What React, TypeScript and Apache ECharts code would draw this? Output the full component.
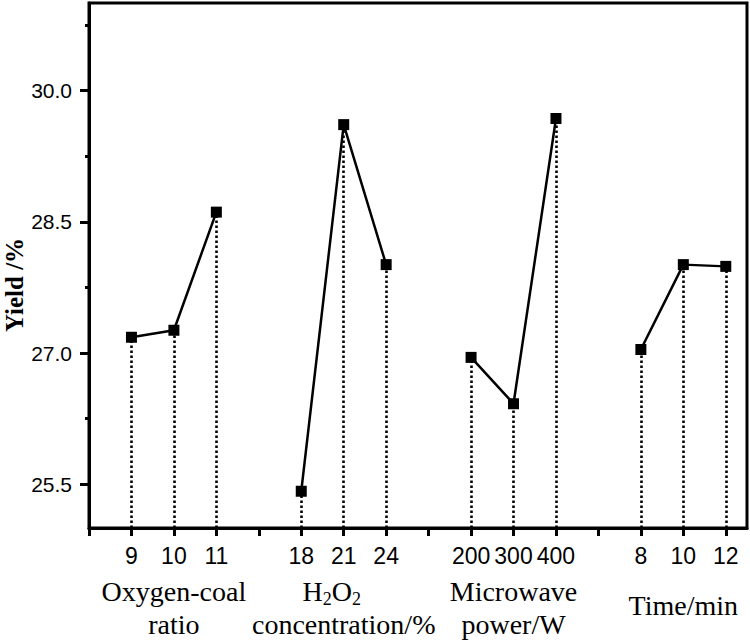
import React, { useEffect, useRef } from "react";
import * as echarts from "echarts";

// Factor groups and their levels (tick labels)
const groupNames = ["Oxygen-coal ratio", "H2O2 concentration/%", "Microwave power/W", "Time/min"];
const oxygenCoalLevels = ["9", "10", "11"];
const h2o2Levels = ["18", "21", "24"];
const microwaveLevels = ["200", "300", "400"];
const timeLevels = ["8", "10", "12"];

// Yield (%) for each level
const oxygenCoalYield = [27.18, 27.26, 28.61];
const h2o2Yield = [25.42, 29.61, 28.01];
const microwaveYield = [26.95, 26.42, 29.68];
const timeYield = [27.04, 28.01, 27.99];

// Y axis tick labels and title
const yTitle = "Yield /%";
const yMajorTicks = [25.5, 27.0, 28.5, 30.0];
const yMinorTicks = [26.25, 27.75, 29.25, 30.75];

const levels = [oxygenCoalLevels, h2o2Levels, microwaveLevels, timeLevels];
const yields = [oxygenCoalYield, h2o2Yield, microwaveYield, timeYield];

const Y_MIN = 25.0;
const Y_MAX = 31.0;
const X_MAX = 15.5;

export default function App() {
  const ref = useRef<HTMLDivElement>(null);

  useEffect(() => {
    if (!ref.current) return;
    const chart = echarts.init(ref.current, null, { renderer: "svg" });

    // position of level i in group g along the x axis
    const pos = (g: number, i: number) => g * 4 + i + 1;

    const levelMap: Record<number, string> = {};
    const levelValues: number[] = [];
    const groupMap: Record<number, string> = {};
    const groupValues: number[] = [];
    levels.forEach((lv, g) => {
      lv.forEach((l, i) => {
        const x = pos(g, i);
        levelValues.push(x);
        levelMap[x] = l;
      });
      const c = pos(g, 1);
      groupValues.push(c);
      const nm = groupNames[g];
      if (nm.startsWith("H2O2")) {
        groupMap[c] = `{cat|H}{sub|2}{cat|O}{sub|2}{pad|}\n{cat|${nm.slice(5)}}`;
      } else if (nm.indexOf(" ") >= 0) {
        const k = nm.indexOf(" ");
        groupMap[c] = `{cat|${nm.slice(0, k)}}\n{cat|${nm.slice(k + 1)}}`;
      } else {
        groupMap[c] = `{single|${nm}}`;
      }
    });
    const xTicks: number[] = [];
    for (let k = 0; k <= 15; k++) xTicks.push(k);

    const series = yields.map((ys, g) => {
      const data = ys.map((y, i) => [pos(g, i), y]);
      return {
        type: "line",
        name: groupNames[g],
        data,
        symbol: "rect",
        symbolSize: 11,
        itemStyle: { color: "#000" },
        lineStyle: { color: "#000", width: 2.5 },
        markLine: {
          silent: true,
          symbol: ["none", "none"],
          label: { show: false },
          lineStyle: { color: "#000", type: [2.5, 2.5], width: 2.6 },
          data: data.map(([x, y]) => [{ coord: [x, Y_MIN] }, { coord: [x, y] }]),
        },
      };
    });

    chart.setOption({
      animation: false,
      backgroundColor: "#fff",
      grid: {
        left: 89,
        right: 3,
        top: 3,
        bottom: 112,
        containLabel: false,
        outerBoundsMode: "none",
        show: true,
        borderColor: "#000",
        borderWidth: 3,
        backgroundColor: "transparent",
      },
      graphic: [
        {
          type: "text",
          x: 14,
          y: 285,
          rotation: Math.PI / 2,
          style: {
            text: yTitle,
            fontFamily: "Liberation Serif",
            fontSize: 25,
            fontWeight: "bold",
            fill: "#000",
            align: "center",
            verticalAlign: "middle",
          },
        },
      ],
      xAxis: [
        {
          type: "value",
          min: 0,
          max: X_MAX,
          splitLine: { show: false },
          axisLine: { show: true, lineStyle: { color: "#000", width: 3 } },
          axisTick: {
            show: true,
            customValues: xTicks,
            length: 8,
            lineStyle: { color: "#000", width: 3 },
          },
          axisLabel: {
            customValues: levelValues,
            showMinLabel: true,
            showMaxLabel: true,
            hideOverlap: false,
            margin: 16,
            color: "#000",
            fontFamily: "Liberation Sans",
            fontSize: 23,
            formatter: (v: number) => levelMap[Math.round(v)] ?? "",
          },
        },
        {
          type: "value",
          min: 0,
          max: X_MAX,
          position: "bottom",
          splitLine: { show: false },
          axisLine: { show: false },
          axisTick: { show: false },
          axisLabel: {
            customValues: groupValues,
            showMinLabel: true,
            showMaxLabel: true,
            hideOverlap: false,
            margin: 47,
            color: "#000",
            formatter: (v: number) => groupMap[Math.round(v)] ?? "",
            rich: {
              cat: { fontFamily: "Liberation Serif", fontSize: 28, lineHeight: 33, color: "#000" },
              sub: {
                fontFamily: "Liberation Serif",
                fontSize: 18,
                lineHeight: 33,
                verticalAlign: "bottom",
                color: "#000",
              },
              pad: { width: 24, lineHeight: 33 },
              single: { fontFamily: "Liberation Serif", fontSize: 28, lineHeight: 60, color: "#000" },
            },
          },
        },
      ],
      yAxis: [
        {
          type: "value",
          min: Y_MIN,
          max: Y_MAX,
          splitLine: { show: false },
          axisLine: { show: true, lineStyle: { color: "#000", width: 3 } },
          axisTick: {
            show: true,
            customValues: yMajorTicks,
            length: 9,
            lineStyle: { color: "#000", width: 3 },
          },
          axisLabel: {
            customValues: yMajorTicks,
            showMinLabel: true,
            showMaxLabel: true,
            margin: 17,
            color: "#000",
            fontFamily: "Liberation Sans",
            fontSize: 21,
            formatter: (v: number) => v.toFixed(1),
          },
        },
        {
          type: "value",
          min: Y_MIN,
          max: Y_MAX,
          position: "left",
          splitLine: { show: false },
          axisLine: { show: false },
          axisTick: {
            show: true,
            customValues: yMinorTicks,
            length: 4,
            lineStyle: { color: "#000", width: 3 },
          },
          axisLabel: { show: false },
        },
      ],
      series,
    });

    return () => chart.dispose();
  }, []);

  return (
    <div
      ref={ref}
      style={{ position: "fixed", left: 0, top: 0, width: 750, height: 640, background: "#fff" }}
    />
  );
}
